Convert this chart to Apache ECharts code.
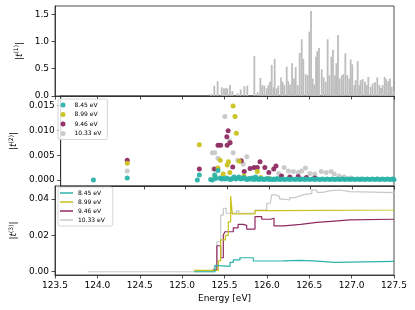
<!DOCTYPE html>
<html><head><meta charset="utf-8">
<script src="https://cdn.jsdelivr.net/npm/echarts@6/dist/echarts.min.js"></script>
<style>html,body{margin:0;padding:0;background:#fff}#c{width:415px;height:310px}</style>
</head><body><div id="c"></div>
<script>
// ---------- data ----------
const xTicks = [123.5, 124.0, 124.5, 125.0, 125.5, 126.0, 126.5, 127.0, 127.5];
const t1Ticks = [0, 0.5, 1.0, 1.5];
const t2Ticks = [0, 0.005, 0.010, 0.015];
const t3Ticks = [0, 0.02, 0.04];
const labels = ['8.45 eV', '8.99 eV', '9.46 eV', '10.33 eV'];

// panel 1: |t(1)| bars
const t1Energy = [125.341,125.380,125.419,125.467,125.494,125.518,125.534,125.565,125.593,125.655,125.691,125.734,125.769,125.852,125.891,125.923,125.946,125.970,125.998,126.017,126.037,126.057,126.080,126.092,126.116,126.135,126.167,126.186,126.206,126.234,126.253,126.273,126.297,126.320,126.340,126.363,126.387,126.411,126.430,126.458,126.481,126.501,126.521,126.540,126.560,126.580,126.595,126.615,126.647,126.670,126.694,126.717,126.737,126.761,126.780,126.804,126.820,126.839,126.859,126.883,126.902,126.926,126.949,126.973,126.989,127.008,127.032,127.048,127.071,127.091,127.107,127.130,127.158,127.178,127.197,127.225,127.248,127.276,127.303,127.327,127.347,127.366,127.390,127.410,127.433,127.453,127.473,127.498];
const t1Amp = [0.03,0.19,0.27,0.16,0.14,0.14,0.14,0.20,0.09,0.05,0.12,0.18,0.19,0.73,0.07,0.33,0.20,0.19,0.14,0.20,0.26,0.57,0.16,0.68,0.14,0.19,0.34,0.26,0.20,0.54,0.27,0.21,0.60,0.32,0.53,0.20,0.79,1.04,0.68,0.40,0.38,1.18,1.56,0.32,0.21,0.72,0.82,0.88,0.49,0.34,0.26,1.04,0.38,0.72,0.85,0.38,0.60,1.12,0.32,0.38,0.40,0.78,0.38,0.32,0.67,0.58,0.20,0.29,0.64,0.20,0.29,0.31,0.26,0.20,0.35,0.17,0.23,0.25,0.34,0.20,0.15,0.20,0.35,0.31,0.27,0.32,0.17,0.09];

// panel 2: |t(2)| scatter points [energy, value]
const t2_845 = [[123.893,0],[124.299,0.0004],[125.140,0],[125.164,0.0010],[125.300,0.0001],[125.321,0],[125.349,0.0010],[125.360,0.0003],[125.388,0.0019],[125.410,0.0004],[125.430,0.0002],[125.450,0.0003],[125.470,0.0002],[125.490,0.0004],[125.520,0.0002],[125.540,0.0001],[125.560,0.0003],[125.580,0.0006],[125.600,0.0002],[125.620,0.0004],[125.640,0.0006],[125.660,0.0002],[125.680,0.0003],[125.700,0.0005],[125.720,0.0002],[125.740,0.0001],[125.760,0.0003],[125.780,0.0002],[125.800,0.0004],[125.820,0.0001],[125.840,0.0006],[125.860,0.0002],[125.880,0.0001],[125.900,0.0003],[125.920,0.0002],[125.940,0.0001],[125.960,0.0002],[125.980,0.0003],[126.000,0.0001],[126.020,0.0002],[126.040,0.0001],[126.060,0.0002],[126.080,0.0001],[126.100,0.0003],[126.130,0.0001],[126.160,0.0002],[126.190,0.0001],[126.220,0.0002],[126.250,0.0001],[126.280,0.0002],[126.310,0.0001],[126.340,0.0002],[126.370,0.0001],[126.400,0.0002],[126.430,0.0001],[126.460,0.0002],[126.490,0.0001],[126.520,0.0002],[126.550,0.0001],[126.580,0.0002],[126.610,0.0001],[126.640,0.0002],[126.670,0.0001],[126.700,0.0002],[126.730,0.0001],[126.760,0.0002],[126.790,0.0001],[126.820,0.0002],[126.850,0.0001],[126.880,0.0002],[126.910,0.0001],[126.940,0.0002],[126.970,0.0001],[127.000,0.0002],[127.030,0.0001],[127.060,0.0002],[127.090,0.0001],[127.120,0.0002],[127.150,0.0001],[127.180,0.0002],[127.210,0.0001],[127.240,0.0002],[127.270,0.0001],[127.300,0.0002],[127.330,0.0001],[127.360,0.0002],[127.390,0.0001],[127.420,0.0002],[127.450,0.0001],[127.480,0.0002],[127.500,0.0001]];
const t2_899 = [[124.299,0.0034],[125.164,0.0071],[125.350,0.0008],[125.388,0.0024],[125.415,0.0040],[125.450,0.0012],[125.498,0.0030],[125.514,0.0037],[125.530,0.0015],[125.569,0.0149],[125.592,0.0128],[125.608,0.0094],[125.643,0.0038],[125.700,0.0008],[125.860,0.0017],[125.900,0.0005],[126.000,0.0003]];
const t2_946 = [[124.299,0.0040],[125.164,0.0022],[125.349,0.0022],[125.388,0.0070],[125.420,0.0070],[125.494,0.0087],[125.498,0.0070],[125.510,0.0099],[125.533,0.0075],[125.565,0.0026],[125.667,0.0039],[125.703,0.0017],[125.773,0.0023],[125.821,0.0025],[125.860,0.0025],[125.892,0.0037],[125.950,0.0025],[125.998,0.0015],[126.057,0.0022],[126.084,0.0028],[126.150,0.0008],[126.250,0.0006],[126.350,0.0007],[126.450,0.0005],[126.550,0.0004]];
const t2_1033 = [[124.299,0.0018],[125.321,0.0055],[125.330,0.0022],[125.349,0.0055],[125.388,0.0044],[125.470,0.0128],[125.526,0.0079],[125.569,0.0055],[125.624,0.0040],[125.691,0.0032],[125.734,0.0047],[126.116,0.0013],[126.182,0.0025],[126.234,0.0018],[126.293,0.0017],[126.352,0.0015],[126.391,0.0018],[126.438,0.0024],[126.490,0.0013],[126.548,0.0012],[126.627,0.0017],[126.686,0.0015],[126.745,0.0017],[126.784,0.0012],[126.843,0.0008],[126.902,0.0006],[126.981,0.0004],[127.100,0.0002],[127.300,0.0002]];

// panel 3: |t(3)| cumulative step curves [energy, value]
const t3_845 = [[125.140,0.0000],[125.388,0.0035],[125.410,0.0030],[125.565,0.0052],[125.604,0.0065],[125.683,0.0077],[125.840,0.0059],[125.998,0.0060],[126.194,0.0063],[126.400,0.0058],[126.590,0.0052],[126.800,0.0057],[127.500,0.0057]];
const t3_899 = [[125.140,0.0008],[125.427,0.0060],[125.455,0.0175],[125.510,0.0200],[125.545,0.0275],[125.573,0.0417],[125.592,0.0318],[125.860,0.0336],[126.100,0.0340],[127.500,0.0344]];
const t3_946 = [[125.360,0.0010],[125.410,0.0143],[125.455,0.0077],[125.486,0.0202],[125.505,0.0220],[125.604,0.0242],[125.660,0.0261],[125.720,0.0255],[125.762,0.0235],[125.860,0.0303],[125.940,0.0289],[126.040,0.0294],[126.084,0.0253],[126.200,0.0261],[126.400,0.0272],[126.590,0.0279],[126.800,0.0285],[126.980,0.0289],[127.500,0.0287]];
const t3_1033 = [[123.885,0.0000],[125.380,0.0030],[125.410,0.0165],[125.455,0.0312],[125.486,0.0349],[125.520,0.0322],[125.640,0.0335],[125.670,0.0322],[125.860,0.0340],[125.998,0.0377],[126.040,0.0370],[126.057,0.0423],[126.100,0.0415],[126.150,0.0400],[126.200,0.0395],[126.270,0.0408],[126.330,0.0418],[126.390,0.0426],[126.450,0.0430],[126.530,0.0450],[126.590,0.0437],[126.660,0.0445],[126.730,0.0450],[126.860,0.0441],[126.980,0.0435],[127.500,0.0435]];

// ---------- chart ----------
const colors = ['#2bb3aa', '#c9c21c', '#8f2b63', '#c8c8c8'];
const FONT = 'DejaVu Sans';
const chart = echarts.init(document.getElementById('c'), null, {renderer: 'canvas'});

const grids = [
  {left: 55, width: 339, top: 6, height: 90},
  {left: 55, width: 339, top: 96, height: 90},
  {left: 55, width: 339, top: 186, height: 89}
].map(g => Object.assign(g, {show: true, borderColor: '#222', borderWidth: 0.8, backgroundColor: 'transparent'}));

const axLine = {show: true, onZero: false, lineStyle: {color: '#222', width: 0.8}};
const xAxes = [0, 1, 2].map(i => ({
  type: 'value', gridIndex: i, min: 123.5, max: 127.5,
  axisLine: axLine,
  axisTick: {show: true, length: 3.5, customValues: xTicks, lineStyle: {color: '#222', width: 0.8}},
  axisLabel: {show: i === 2, customValues: xTicks, formatter: v => v.toFixed(1), fontSize: 9, color: '#000', fontFamily: FONT, margin: 6},
  splitLine: {show: false},
  name: i === 2 ? 'Energy [eV]' : '', nameLocation: 'middle', nameGap: 19,
  nameTextStyle: {fontSize: 9, color: '#000', fontFamily: FONT}
}));

function yName(n) {
  return '{n||}{it|t}{sup|(' + n + ')}{n||}';
}
const nameRich = {
  n: {fontSize: 9, fontFamily: FONT, color: '#000'},
  it: {fontSize: 9, fontFamily: FONT, fontStyle: 'italic', color: '#000'},
  sup: {fontSize: 6, fontFamily: FONT, color: '#000', padding: [0, 0, 5, 0]}
};
const yCfg = [
  {min: 0, max: 1.65, ticks: t1Ticks, dec: 1, gap: 19},
  {min: -0.0012, max: 0.0169, ticks: t2Ticks, dec: 3, gap: 30},
  {min: -0.0018, max: 0.0472, ticks: t3Ticks, dec: 2, gap: 26}
];
const yAxes = yCfg.map((c, i) => ({
  type: 'value', gridIndex: i, min: c.min, max: c.max,
  axisLine: axLine,
  axisTick: {show: true, length: 3.5, customValues: c.ticks, lineStyle: {color: '#222', width: 0.8}},
  axisLabel: {customValues: c.ticks, formatter: v => v.toFixed(c.dec), fontSize: 9, color: '#000', fontFamily: FONT, margin: 6},
  splitLine: {show: false},
  name: yName(i + 1), nameLocation: 'middle', nameRotate: 90, nameGap: c.gap,
  nameTextStyle: {rich: nameRich}
}));

const scatterData = [t2_845, t2_899, t2_946, t2_1033];
const stepData = [t3_845, t3_899, t3_946, t3_1033];
const drawOrder = [3, 2, 1, 0];

const series = [{
  type: 'bar', xAxisIndex: 0, yAxisIndex: 0, barWidth: 1.8,
  data: t1Energy.map((e, i) => [e, t1Amp[i]]),
  itemStyle: {color: '#bdbdbd'}, silent: true
}];
drawOrder.forEach(k => series.push({
  type: 'scatter', name: labels[k], xAxisIndex: 1, yAxisIndex: 1,
  data: scatterData[k], symbolSize: 5, itemStyle: {color: colors[k], opacity: 0.95}, silent: true
}));
drawOrder.forEach(k => series.push({
  type: 'line', name: labels[k] + ' ', xAxisIndex: 2, yAxisIndex: 2,
  data: stepData[k], step: 'end', symbol: 'none', showSymbol: false,
  lineStyle: {color: colors[k], width: 1.2}, itemStyle: {color: colors[k]}, silent: true
}));

const legendBase = {
  orient: 'vertical', left: 58,
  textStyle: {fontSize: 6, fontFamily: FONT, color: '#000'},
  borderColor: '#cccccc', borderWidth: 0.8, borderRadius: 2,
  backgroundColor: 'rgba(255,255,255,0.85)', selectedMode: false
};
const legends = [
  Object.assign({}, legendBase, {
    top: 99, itemGap: 3.5, padding: [3, 6, 3, 2.5], itemWidth: 13, itemHeight: 5, icon: 'circle',
    data: labels.slice()
  }),
  Object.assign({}, legendBase, {
    top: 187, itemGap: 3, padding: [3, 6, 3, 2], itemWidth: 13, itemHeight: 1.5, icon: 'rect',
    data: labels.map(l => l + ' ')
  })
];

chart.setOption({
  animation: false,
  backgroundColor: '#fff',
  textStyle: {fontFamily: FONT},
  grid: grids, xAxis: xAxes, yAxis: yAxes,
  legend: legends, series: series
});
</script></body></html>
